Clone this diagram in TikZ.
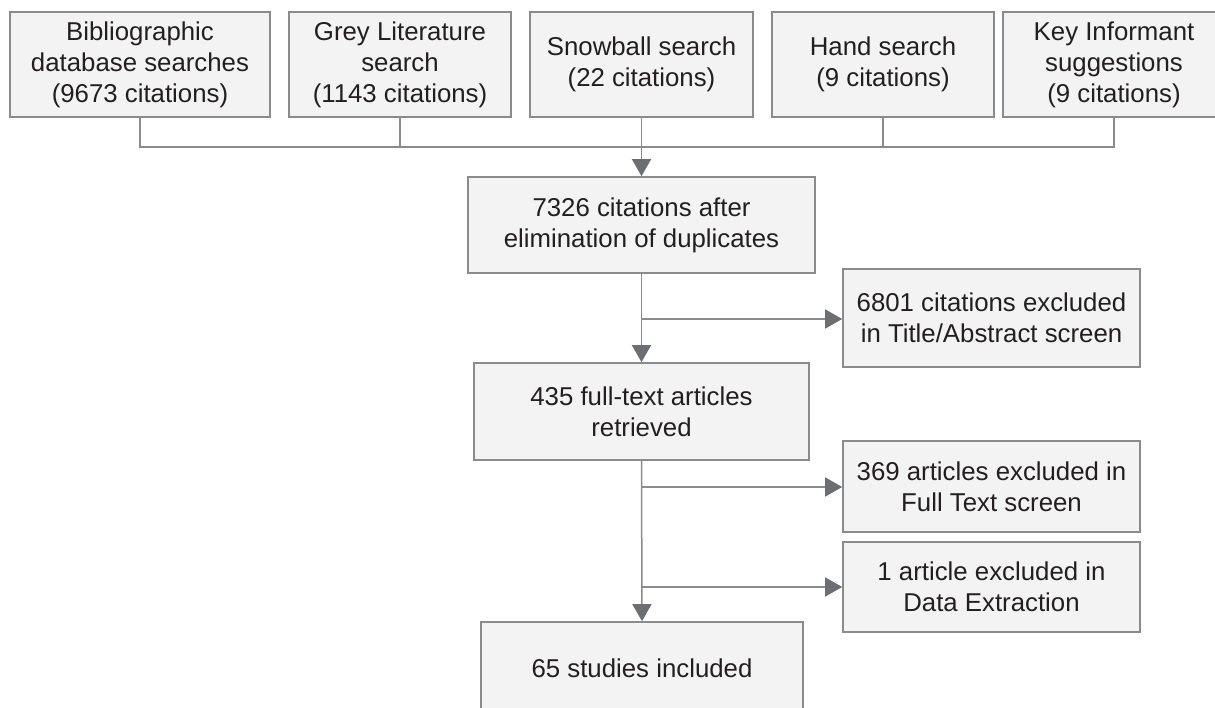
\documentclass[tikz,border=0pt]{standalone}
\usepackage{fontspec}
\setmainfont{Liberation Sans}
\usetikzlibrary{arrows.meta}
\definecolor{boxfill}{HTML}{F2F3F2}
\definecolor{boxdraw}{HTML}{8A8B8C}
\definecolor{linec}{HTML}{8A8B8D}
\definecolor{headc}{HTML}{6D6E71}
\definecolor{txt}{HTML}{231F20}
\begin{document}
\begin{tikzpicture}[x=1pt,y=-1pt,
  box/.style={draw=boxdraw,fill=boxfill,line width=1.6pt,inner sep=0pt,align=center,
    text=txt,font=\fontsize{25.8}{31}\selectfont},
  conn/.style={draw=linec,line width=1.5pt},
  arr/.style={conn,-{Triangle[width=19pt,length=17pt,fill=headc,color=headc]}}]
\useasboundingbox (0,0) rectangle (1215,708);
\clip (0,0) rectangle (1215,708);
% top row
\node[box,minimum width=260pt,minimum height=105pt] (b1) at (140,64.5) {Bibliographic\\database searches\\(9673 citations)};
\node[box,minimum width=222pt,minimum height=105pt] (b2) at (400,64.5) {Grey Literature\\search\\(1143 citations)};
\node[box,minimum width=223pt,minimum height=105pt] (b3) at (641.5,64.5) {Snowball search\\(22 citations)};
\node[box,minimum width=222pt,minimum height=105pt] (b4) at (883,64.5) {Hand search\\(9 citations)};
\node[box,minimum width=222pt,minimum height=105pt] (b5) at (1114,64.5) {Key Informant\\suggestions\\(9 citations)};
% main column
\node[box,minimum width=347pt,minimum height=96pt] (n1) at (641.5,225) {7326 citations after\\elimination of duplicates};
\node[box,minimum width=335pt,minimum height=97pt] (n2) at (641.5,411.5) {435 full-text articles\\retrieved};
\node[box,minimum width=322pt,minimum height=92pt] (n3) at (642,668) {65 studies included};
% exclusions
\node[box,minimum width=297pt,minimum height=98pt] (e1) at (991.5,318) {6801 citations excluded\\in Title/Abstract screen};
\node[box,minimum width=297pt,minimum height=91pt] (e2) at (991.5,486.5) {369 articles excluded in\\Full Text screen};
\node[box,minimum width=297pt,minimum height=90pt] (e3) at (991.5,587) {1 article excluded in\\Data Extraction};
% bus
\coordinate (busL) at (140,147);
\coordinate (busR) at (1114,147);
\draw[conn] (b1.south) -- (busL) -- (busR) -- (b5.south);
\draw[conn] (b2.south) -- (b2.south |- busL);
\draw[conn] (b4.south) -- (b4.south |- busL);
\draw[arr] (b3.south) -- (n1.north);
% main flow
\draw[arr] (n1.south) -- (n2.north);
\coordinate (j1) at (641.5,319);
\draw[arr] (j1) -- (e1.west |- j1);
\draw[arr] (n2.south) -- (n3.north);
\coordinate (j2) at (641.5,487);
\coordinate (j3) at (641.5,587);
\draw[arr] (j2) -- (e2.west |- j2);
\draw[arr] (j3) -- (e3.west |- j3);
\end{tikzpicture}
\end{document}
